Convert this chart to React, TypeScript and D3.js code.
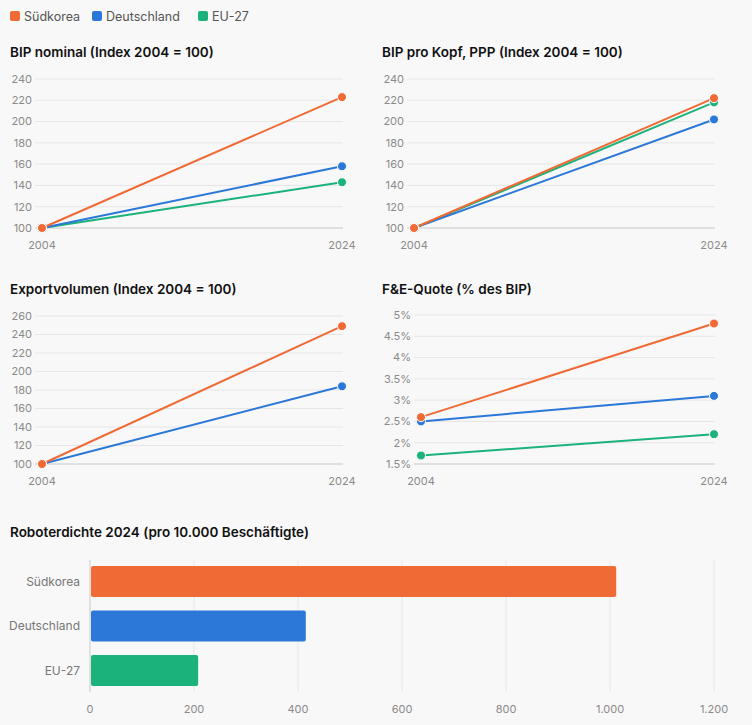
import * as d3 from "d3";

const W = 752;
const H = 725;

const countries = ["Südkorea", "Deutschland", "EU-27"];
const colors = ["#ef6a35", "#2b78d8", "#1bb27b"];
const years = ["2004", "2024"];

// Index 2004 = 100
const gdpNominal = [
  [100, 223],
  [100, 158],
  [100, 143],
];
const gdpPerCapita = [
  [100, 222],
  [100, 202],
  [100, 218],
];
const exportVolume = [
  [100, 249],
  [100, 184],
];
// % des BIP
const rdShare = [
  [2.6, 4.8],
  [2.5, 3.1],
  [1.7, 2.2],
];
const robotDensity = [1012, 415, 208];

const indexTicks = [100, 120, 140, 160, 180, 200, 220, 240];
const exportTicks = [100, 120, 140, 160, 180, 200, 220, 240, 260];
const rdTicks = [1.5, 2, 2.5, 3, 3.5, 4, 4.5, 5];
const robotTicks = [0, 200, 400, 600, 800, 1000, 1200];

const FONT = "Inter, 'Noto Sans', sans-serif";
const deFormat = d3.formatLocale({ decimal: ",", thousands: ".", grouping: [3], currency: ["", "€"] });

interface PanelProps {
  title: string;
  tx: number;
  ty: number;
  x0: number;
  x1: number;
  yTop: number;
  yBot: number;
  ticks: number[];
  series: number[][];
  fmt: (v: number) => string;
}

function LinePanel({ title, tx, ty, x0, x1, yTop, yBot, ticks, series, fmt }: PanelProps) {
  const x = d3.scalePoint<string>().domain(years).range([x0, x1]);
  const y = d3.scaleLinear().domain([ticks[0], ticks[ticks.length - 1]]).range([yBot, yTop]);
  const line = d3
    .line<number>()
    .x((_, i) => x(years[i]) as number)
    .y((d) => y(d));
  // draw first country last so it sits on top
  const order = series.map((_, i) => i).reverse();
  return (
    <g>
      <text x={tx} y={ty} fontSize={13.5} fontWeight={600} fill="#111">
        {title}
      </text>
      {ticks.map((t, i) => (
        <g key={t}>
          <line
            x1={x0 - 7}
            x2={x1 + 1}
            y1={y(t)}
            y2={y(t)}
            stroke={i === 0 ? "#c8c8c8" : "#e6e6e6"}
            strokeWidth={1}
          />
          <text x={x0 - 10} y={y(t)} dy="0.35em" textAnchor="end" fontSize={11} fill="#8a8a8a">
            {fmt(t)}
          </text>
        </g>
      ))}
      {years.map((yr) => (
        <text key={yr} x={x(yr)} y={yBot + 21} textAnchor="middle" fontSize={11} fill="#8a8a8a">
          {yr}
        </text>
      ))}
      {order.map((i) => (
        <path key={"l" + i} d={line(series[i]) || ""} fill="none" stroke={colors[i]} strokeWidth={2} />
      ))}
      {order.map((i) =>
        series[i].map((v, j) => (
          <circle
            key={`c${i}-${j}`}
            cx={x(years[j])}
            cy={y(v)}
            r={4.5}
            fill={colors[i]}
            stroke="#fff"
            strokeWidth={1}
          />
        ))
      )}
    </g>
  );
}

function BarPanel() {
  const x = d3.scaleLinear().domain([0, 1200]).range([90, 714]);
  const y = d3.scaleBand<string>().domain(countries).range([560, 692]).paddingInner(0.3).paddingOuter(0.135);
  const fmt = deFormat.format(",d");
  return (
    <g>
      <text x={10} y={537} fontSize={13.5} fontWeight={600} fill="#111">
        Roboterdichte 2024 (pro 10.000 Beschäftigte)
      </text>
      {robotTicks.map((t) => (
        <g key={t}>
          <line x1={x(t)} x2={x(t)} y1={560} y2={692} stroke={t === 0 ? "#c8c8c8" : "#e8e8e8"} />
          <text x={x(t)} y={713} textAnchor="middle" fontSize={11} fill="#8a8a8a">
            {fmt(t)}
          </text>
        </g>
      ))}
      {countries.map((c, i) => (
        <g key={c}>
          <rect
            x={x(0) + 1}
            y={y(c)}
            width={x(robotDensity[i]) - x(0) - 1}
            height={y.bandwidth()}
            rx={2}
            fill={colors[i]}
          />
          <text
            x={80}
            y={(y(c) as number) + y.bandwidth() / 2}
            dy="0.35em"
            textAnchor="end"
            fontSize={12}
            fill="#777"
          >
            {c}
          </text>
        </g>
      ))}
    </g>
  );
}

export default function App() {
  const idxFmt = (v: number) => String(v);
  const pctFmt = (v: number) => d3.format("~g")(v) + "%";
  const legendX = [10, 92, 198];
  return (
    <svg
      width={W}
      height={H}
      style={{ position: "absolute", left: 0, top: 0, background: "#f8f8f8", fontFamily: FONT }}
    >
      <rect width={W} height={H} fill="#f8f8f8" />
      {countries.map((c, i) => (
        <g key={c}>
          <rect x={legendX[i]} y={11} width={10} height={10} rx={2} fill={colors[i]} />
          <text x={legendX[i] + 14} y={20.5} fontSize={12.5} fill="#555">
            {c}
          </text>
        </g>
      ))}
      <LinePanel
        title="BIP nominal (Index 2004 = 100)"
        tx={10}
        ty={57}
        x0={42}
        x1={342}
        yTop={79}
        yBot={228}
        ticks={indexTicks}
        series={gdpNominal}
        fmt={idxFmt}
      />
      <LinePanel
        title="BIP pro Kopf, PPP (Index 2004 = 100)"
        tx={382}
        ty={57}
        x0={414}
        x1={714}
        yTop={79}
        yBot={228}
        ticks={indexTicks}
        series={gdpPerCapita}
        fmt={idxFmt}
      />
      <LinePanel
        title="Exportvolumen (Index 2004 = 100)"
        tx={10}
        ty={294}
        x0={42}
        x1={342}
        yTop={316}
        yBot={464}
        ticks={exportTicks}
        series={exportVolume}
        fmt={idxFmt}
      />
      <LinePanel
        title="F&E-Quote (% des BIP)"
        tx={382}
        ty={294}
        x0={421}
        x1={714}
        yTop={315}
        yBot={464}
        ticks={rdTicks}
        series={rdShare}
        fmt={pctFmt}
      />
      <BarPanel />
    </svg>
  );
}
